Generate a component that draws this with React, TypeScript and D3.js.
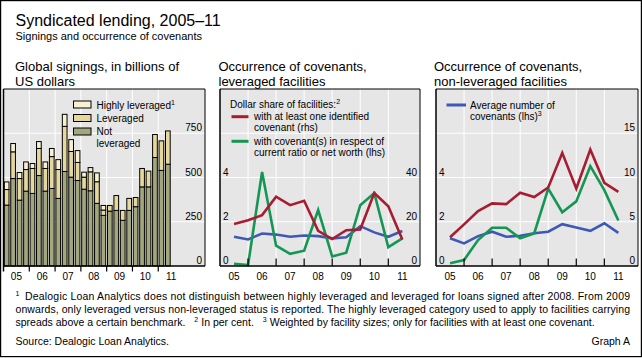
import React from 'react';
import * as d3 from 'd3';

// ---------- data ----------
const yearLabels = ['05', '06', '07', '08', '09', '10', '11'];
const yearStarts = [2005, 2006, 2007, 2008, 2009, 2010, 2011];

// Quarterly global signings, USD bn, 2005Q1–2011Q2
const notLeveraged = [344, 494, 372, 423, 410, 511, 423, 438, 382, 534, 502, 483, 434, 425, 354, 286, 310, 314, 258, 314, 335, 447, 447, 613, 540, 575];
const leveraged = [88, 151, 122, 122, 141, 153, 128, 180, 163, 255, 145, 102, 68, 107, 122, 30, 32, 84, 56, 68, 52, 104, 89, 130, 167, 188];
const highlyLeveraged = [43, 47, 34, 43, 28, 39, 37, 46, 56, 68, 67, 67, 28, 24, 50, 26, 0, 0, 0, 0, 0, 0, 0, 0, 0, 0];
const signingsTicks = [0, 250, 500, 750];

// Half-yearly covenant series
const halfYears = [2005.5, 2006, 2006.5, 2007, 2007.5, 2008, 2008.5, 2009, 2009.5, 2010, 2010.5, 2011, 2011.5];
const levAnyCovenant = [19, 20.7, 23, 31.3, 27.5, 29.5, 15.9, 12.2, 16.2, 16.5, 33, 27, 12]; // rhs
const levRatioCovenant = [0.1, 0.04, 4.25, 0.92, 0.55, 0.69, 2.53, 0.43, 0.6, 2.75, 3.3, 0.85, 1.25]; // lhs
const levAvgNumber = [1.32, 1.2, 1.47, 1.42, 1.32, 1.38, 1.35, 1.25, 1.3, 1.8, 1.52, 1.32, 1.58]; // lhs

const nonLevAnyCovenant = [3.24, 4.7, 6.2, 7.07, 6.99, 8.27, 7.8, 8.87, 12.78, 8.76, 13.16, 9.4, 8.38]; // rhs
const nonLevRatioCovenant = [0.12, 0.27, 1.17, 1.73, 1.73, 1.25, 1.47, 3.5, 2.43, 2.92, 4.51, 3.43, 2.06]; // lhs
const nonLevAvgNumber = [1.25, 1.02, 1.35, 1.55, 1.32, 1.37, 1.48, 1.55, 1.89, 1.74, 1.59, 1.93, 1.5]; // lhs

const lhsTicks = [0, 2, 4];
const lhsGrid = [2, 4, 6];
const midRhsTicks = [0, 20, 40];
const rightRhsTicks = [0, 5, 10, 15];

// ---------- styles ----------
const FONT = 'Arial, "Liberation Sans", Helvetica, sans-serif';
const NARROW = '"Liberation Sans Narrow", "Arial Narrow", Arial, "Liberation Sans", sans-serif';
const BG = '#e6e6e6';
const RED = '#a81c31';
const GREEN = '#159654';
const BLUE = '#3e59b5';
const C_HIGH = '#f7f1d2';
const C_LEV = '#e6d89c';
const C_NOT = '#a3a77e';
const TOP = 89;
const BOT = 266;

type Series = { values: number[]; color: string; axis: 'l' | 'r' };

function LinePanel(props: {
  x0: number; x1: number; xMax: number; rhsMax: number; rhsTicks: number[]; series: Series[];
}) {
  const { x0, x1, xMax, rhsMax, rhsTicks, series } = props;
  const x = d3.scaleLinear().domain([2005, xMax]).range([x0, x1]);
  const yl = d3.scaleLinear().domain([0, 8]).range([BOT, TOP]);
  const yr = d3.scaleLinear().domain([0, rhsMax]).range([BOT, TOP]);
  return (
    <g>
      <rect x={x0} y={TOP} width={x1 - x0} height={BOT - TOP} fill={BG} />
      {lhsGrid.map((v) => (
        <line key={'h' + v} x1={x0} x2={x1} y1={yl(v)} y2={yl(v)} stroke="#fff" strokeWidth={1} />
      ))}
      {yearStarts.slice(1).map((yv) => (
        <line key={'v' + yv} x1={x(yv)} x2={x(yv)} y1={TOP} y2={BOT} stroke="#fff" strokeWidth={1} />
      ))}
      {series.map((s, i) => {
        const yS = s.axis === 'l' ? yl : yr;
        const path = d3.line<number>().x((_, j) => x(halfYears[j])).y((d) => yS(d))(s.values) || '';
        return <path key={i} d={path} fill="none" stroke={s.color} strokeWidth={2.6} strokeLinejoin="miter" />;
      })}
      {yearStarts.slice(1).map((yv) => (
        <line key={'t' + yv} x1={x(yv)} x2={x(yv)} y1={BOT} y2={BOT - 7.5} stroke="#000" strokeWidth={1.2} />
      ))}
      <line x1={x0} x2={x1} y1={TOP} y2={TOP} stroke="#000" strokeWidth={1} />
      <line x1={x1} x2={x1} y1={TOP} y2={BOT} stroke="#000" strokeWidth={1} />
      <line x1={x0} x2={x0} y1={TOP} y2={BOT} stroke="#000" strokeWidth={1.5} />
      <line x1={x0} x2={x1} y1={BOT} y2={BOT} stroke="#000" strokeWidth={1.5} />
      {lhsTicks.map((v) => (
        <text key={'l' + v} x={x0 + 3} y={yl(v) - 2} fontSize={10} fontFamily={FONT}>{v}</text>
      ))}
      {rhsTicks.map((v) => (
        <text key={'r' + v} x={x1 - 3} y={yr(v) - 2} fontSize={10} fontFamily={FONT} textAnchor="end">{v}</text>
      ))}
      {yearStarts.map((yv, i) => (
        <text key={'x' + yv} x={x(yv + 0.5)} y={279.7} fontSize={10} fontFamily={FONT} textAnchor="middle">{yearLabels[i]}</text>
      ))}
    </g>
  );
}

export default function App() {
  // left panel: quarterly bars
  const lx0 = 3.5;
  const lx1 = 205;
  const xq = d3.scaleLinear().domain([0, 31.25]).range([lx0, lx1]);
  const yS = d3.scaleLinear().domain([0, 1000]).range([BOT, TOP]);
  const qw = xq(1) - xq(0);

  const bars = notLeveraged.map((n, i) => {
    const l = leveraged[i];
    const h = highlyLeveraged[i];
    const bx = xq(i) + 0.8;
    const bw = qw - 1.75;
    const segs: { y0: number; y1: number; c: string }[] = [
      { y0: 0, y1: n, c: C_NOT },
      { y0: n, y1: n + l, c: C_LEV },
    ];
    if (h > 0) segs.push({ y0: n + l, y1: n + l + h, c: C_HIGH });
    return (
      <g key={i}>
        {segs.map((s, k) => (
          <rect key={k} x={bx} width={bw} y={yS(s.y1)} height={yS(s.y0) - yS(s.y1)} fill={s.c} stroke="#000" strokeWidth={1} />
        ))}
      </g>
    );
  });

  const supStyle = { fontSize: 7 } as const;

  return (
    <svg width={642} height={358} style={{ position: 'absolute', left: 0, top: 0, background: '#fff' }}>
      <rect x={0.6} y={0.6} width={640.8} height={356} fill="#fff" stroke="#000" strokeWidth={1.2} />
      <text x={15.5} y={26} fontSize={16} fontFamily={FONT}>Syndicated lending, 2005–11</text>
      <text x={15.5} y={40} fontSize={11} fontFamily={FONT}>Signings and occurrence of covenants</text>

      {/* panel titles */}
      <text fontSize={13} fontFamily={FONT}>
        <tspan x={15} y={71}>Global signings, in billions of</tspan>
        <tspan x={15} y={85.5}>US dollars</tspan>
      </text>
      <text fontSize={13} fontFamily={FONT}>
        <tspan x={218.5} y={71}>Occurrence of covenants,</tspan>
        <tspan x={218.5} y={85.5}>leveraged facilities</tspan>
      </text>
      <text fontSize={13} fontFamily={FONT}>
        <tspan x={434} y={71}>Occurrence of covenants,</tspan>
        <tspan x={434} y={85.5}>non-leveraged facilities</tspan>
      </text>

      {/* left panel */}
      <g>
        <rect x={lx0} y={TOP} width={lx1 - lx0} height={BOT - TOP} fill={BG} />
        {signingsTicks.slice(1).map((v) => (
          <line key={v} x1={lx0} x2={lx1} y1={yS(v)} y2={yS(v)} stroke="#fff" strokeWidth={1} />
        ))}
        {yearStarts.slice(1).map((_, k) => (
          <line key={'v' + k} x1={xq(4 * (k + 1))} x2={xq(4 * (k + 1))} y1={TOP} y2={BOT} stroke="#fff" strokeWidth={1} />
        ))}
        {bars}
        <line x1={lx0} x2={lx1} y1={TOP} y2={TOP} stroke="#000" strokeWidth={1} />
        <line x1={lx1} x2={lx1} y1={TOP} y2={BOT} stroke="#000" strokeWidth={1} />
        <line x1={lx0} x2={lx0} y1={TOP} y2={BOT + 5.5} stroke="#000" strokeWidth={1.5} />
        <line x1={lx0} x2={lx1} y1={BOT} y2={BOT} stroke="#000" strokeWidth={1.5} />
        {yearStarts.slice(1).map((_, k) => (
          <line key={'t' + k} x1={xq(4 * (k + 1))} x2={xq(4 * (k + 1))} y1={BOT} y2={BOT + 5.5} stroke="#000" strokeWidth={1.2} />
        ))}
        {signingsTicks.map((v) => (
          <text key={'l' + v} x={202} y={yS(v) - 2} fontSize={10} fontFamily={FONT} textAnchor="end">{v}</text>
        ))}
        {yearLabels.map((lab, k) => (
          <text key={'x' + k} x={xq(4 * k + 2)} y={279.7} fontSize={10} fontFamily={FONT} textAnchor="middle">{lab}</text>
        ))}
        {/* legend */}
        <rect x={73.5} y={101} width={17.5} height={7} fill={C_HIGH} stroke="#000" strokeWidth={1} />
        <rect x={73.5} y={114.5} width={17.5} height={7} fill={C_LEV} stroke="#000" strokeWidth={1} />
        <rect x={73.5} y={128} width={17.5} height={7} fill={C_NOT} stroke="#000" strokeWidth={1} />
        <text fontSize={10} fontFamily={FONT}>
          <tspan x={96.5} y={108.5}>Highly leveraged</tspan>
          <tspan dy={-4} style={supStyle}>1</tspan>
        </text>
        <text x={96.5} y={121.8} fontSize={10} fontFamily={FONT}>Leveraged</text>
        <text x={96.5} y={135.2} fontSize={10} fontFamily={FONT}>Not</text>
        <text x={96.5} y={146.8} fontSize={10} fontFamily={FONT}>leveraged</text>
      </g>

      {/* middle panel */}
      <LinePanel
        x0={220} x1={420} xMax={2012.13} rhsMax={80} rhsTicks={midRhsTicks}
        series={[
          { values: levAvgNumber, color: BLUE, axis: 'l' },
          { values: levRatioCovenant, color: GREEN, axis: 'l' },
          { values: levAnyCovenant, color: RED, axis: 'r' },
        ]}
      />
      <text fontSize={10} fontFamily={FONT}>
        <tspan x={230} y={107.5}>Dollar share of facilities:</tspan>
        <tspan dy={-4} style={supStyle}>2</tspan>
      </text>
      <line x1={231.5} x2={248.5} y1={116.7} y2={116.7} stroke={RED} strokeWidth={3} />
      <text x={254} y={120.2} fontSize={10} fontFamily={FONT}>with at least one identified</text>
      <text x={254} y={131.2} fontSize={10} fontFamily={FONT}>covenant (rhs)</text>
      <line x1={231.5} x2={248.5} y1={141.3} y2={141.3} stroke={GREEN} strokeWidth={3} />
      <text x={254} y={145} fontSize={10} fontFamily={FONT}>with covenant(s) in respect of</text>
      <text x={254} y={156} fontSize={10} fontFamily={FONT}>current ratio or net worth (lhs)</text>

      {/* right panel */}
      <LinePanel
        x0={436} x1={638} xMax={2012.2} rhsMax={20} rhsTicks={rightRhsTicks}
        series={[
          { values: nonLevAvgNumber, color: BLUE, axis: 'l' },
          { values: nonLevRatioCovenant, color: GREEN, axis: 'l' },
          { values: nonLevAnyCovenant, color: RED, axis: 'r' },
        ]}
      />
      <line x1={446.5} x2={466} y1={105} y2={105} stroke={BLUE} strokeWidth={3} />
      <text x={470} y={108.5} fontSize={10} fontFamily={FONT}>Average number of</text>
      <text fontSize={10} fontFamily={FONT}>
        <tspan x={470} y={119.5}>covenants (lhs)</tspan>
        <tspan dy={-4} style={supStyle}>3</tspan>
      </text>

      {/* footnotes */}
      <text x={15.5} y={295.5} fontSize={7} fontFamily={NARROW}>1</text>
      <text x={25} y={299.7} fontSize={10.5} fontFamily={NARROW} textLength={605} lengthAdjust="spacing">
        Dealogic Loan Analytics does not distinguish between highly leveraged and leveraged for loans signed after 2008. From 2009
      </text>
      <text x={15.5} y={312.7} fontSize={10.5} fontFamily={NARROW} textLength={614.5} lengthAdjust="spacing">
        onwards, only leveraged versus non-leveraged status is reported. The highly leveraged category used to apply to facilities carrying
      </text>
      <text fontSize={10.5} fontFamily={NARROW}>
        <tspan x={15.5} y={325.5}>spreads above a certain benchmark.</tspan>
        <tspan dx={9} dy={-4} style={supStyle}>2</tspan>
        <tspan dx={3} dy={4}>In per cent.</tspan>
        <tspan dx={9} dy={-4} style={supStyle}>3</tspan>
        <tspan dx={3} dy={4}>Weighted by facility sizes; only for facilities with at least one covenant.</tspan>
      </text>
      <text x={15.5} y={344.7} fontSize={10.5} fontFamily={NARROW}>Source: Dealogic Loan Analytics.</text>
      <text x={630} y={344.7} fontSize={10.5} fontFamily={NARROW} textAnchor="end">Graph A</text>
    </svg>
  );
}
